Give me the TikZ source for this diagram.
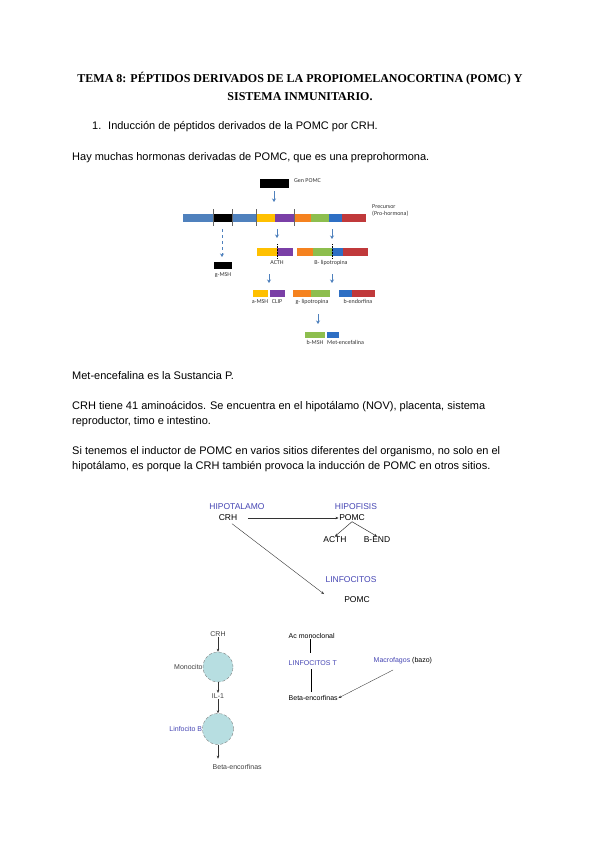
\documentclass[tikz,border=0pt]{standalone}
\usepackage{fontspec}
\setmainfont{Liberation Sans}
\newfontfamily\titlefont{Liberation Serif}
\newfontfamily\figfont{Carlito}
\usetikzlibrary{arrows.meta}
\definecolor{pblue}{HTML}{4F81BD}
\definecolor{pbluedk}{HTML}{2E6FC4}
\definecolor{pyellow}{HTML}{FFC000}
\definecolor{ppurple}{HTML}{7A3FA6}
\definecolor{porange}{HTML}{F5821F}
\definecolor{pgreen}{HTML}{8DBE4E}
\definecolor{pred}{HTML}{C0393B}
\definecolor{arrowblue}{HTML}{4F81BD}
\definecolor{labblue}{HTML}{4646B4}
\definecolor{cellcyan}{HTML}{B7DEE1}
\begin{document}
\begin{tikzpicture}[x=1pt, y=-1pt,
        body/.style={anchor=base west, inner sep=0pt, align=left, font=\fontsize{11}{14.5}\selectfont},
        ttl/.style={inner sep=0pt, align=center, font=\titlefont\bfseries\fontsize{12}{18}\selectfont},
        flbl/.style={inner sep=0pt, text=black!80, font=\figfont\fontsize{6}{7}\selectfont, align=left},
        barrow/.style={draw=arrowblue, line width=0.9pt, -{Stealth[length=3.5pt, width=4pt]}},
        tick/.style={draw=black!60, line width=0.5pt},
        slbl/.style={inner sep=0.5pt, font=\fontsize{8.5}{10}\selectfont},
        clbl/.style={inner sep=0.5pt, text=black!75, font=\fontsize{7}{8}\selectfont},
        cell/.style={circle, draw=gray, densely dashed, fill=cellcyan, minimum size=30pt, inner sep=0pt},
        link/.style={draw=black!80, line width=0.5pt, -{Stealth[length=3pt, width=2.5pt]}}
    ]
        \useasboundingbox[fill=white] (0,0) rectangle (600,848);

        % Title and text
        \node[ttl] (title) at (300,86) {TEMA 8: PÉPTIDOS DERIVADOS DE LA PROPIOMELANOCORTINA (POMC) Y\\SISTEMA INMUNITARIO.};
        \node[body] (num) at (92,130) {1.};
        \node[body] (item) at (108,130) {Inducción de péptidos derivados de la POMC por CRH.};
        \node[body] (intro) at (72,160) {Hay muchas hormonas derivadas de POMC, que es una preprohormona.};

        % Gen POMC
        \node[fill=black, minimum width=29pt, minimum height=9pt, inner sep=0pt] (gen) at (274.5,183) {};
        \node[flbl, anchor=west] (genlbl) at (294,181) {Gen POMC};
        \coordinate (genout) at (274,191);
        \coordinate (genin) at (274,202);
        \draw[barrow] (genout) -- (genin);

        % Precursor
        \foreach \xa/\xb/\col in {183/213/pblue, 213/232/black, 232/256/pblue, 256/275/pyellow, 275/294/ppurple, 294/311/porange, 311/329/pgreen, 329/342/pbluedk, 342/366/pred}
            \fill[\col] (\xa,214) rectangle (\xb,222);
        \foreach \xt in {213,232,256,294}
            \draw[tick] (\xt,209) -- (\xt,226);
        \node[flbl, anchor=north west] (prec) at (372,204) {Precursor\\(Pro-hormona)};

        % Level 2
        \coordinate (gdash) at (222,229);
        \coordinate (gtop) at (222,257);
        \draw[barrow, dashed] (gdash) -- (gtop);
        \coordinate (acthout) at (277,229);
        \coordinate (acthin) at (277,238);
        \draw[barrow] (acthout) -- (acthin);
        \coordinate (lipout) at (332,229);
        \coordinate (lipin) at (332,239);
        \draw[barrow] (lipout) -- (lipin);

        \fill[black] (214,262) rectangle (232,269);
        \node[flbl, anchor=north] (gmsh) at (223,272) {g-MSH};

        \foreach \xa/\xb/\col in {257/277/pyellow, 277/293/ppurple, 297/313/porange, 313/332/pgreen, 332/343/pbluedk, 343/368/pred}
            \fill[\col] (\xa,248) rectangle (\xb,256);
        \draw[black, densely dotted, line width=0.5pt] (277,244) -- (277,259);
        \draw[black, densely dotted, line width=0.5pt] (332,244) -- (332,259);
        \node[flbl, anchor=north] (acth) at (277,260) {ACTH};
        \node[flbl, anchor=north] (blip) at (331,260) {B- lipotropina};

        % Level 3
        \coordinate (l3a) at (269,274);
        \coordinate (l3b) at (269,283);
        \draw[barrow] (l3a) -- (l3b);
        \coordinate (l3c) at (332,274);
        \coordinate (l3d) at (332,283);
        \draw[barrow] (l3c) -- (l3d);

        \foreach \xa/\xb/\col in {253/268/pyellow, 270/285/ppurple, 293/311/porange, 311/330/pgreen, 339/352/pbluedk, 352/375/pred}
            \fill[\col] (\xa,290) rectangle (\xb,297);
        \node[flbl, anchor=north] (amsh) at (260,299) {a-MSH};
        \node[flbl, anchor=north] (clip) at (277,299) {CLIP};
        \node[flbl, anchor=north] (glip) at (312,299) {g- lipotropina};
        \node[flbl, anchor=north] (bend) at (358,299) {b-endorfina};

        % Level 4
        \coordinate (l4a) at (318,314);
        \coordinate (l4b) at (318,324);
        \draw[barrow] (l4a) -- (l4b);
        \fill[pgreen] (305,332) rectangle (325,338);
        \fill[pbluedk] (327,332) rectangle (339,338);
        \node[flbl, anchor=north] (bmsh) at (315,340) {b-MSH};
        \node[flbl, anchor=north west] (met) at (327,340) {Met-encefalina};

        % More text
        \node[body] (sust) at (72,379) {Met-encefalina es la Sustancia P.};
        \node[body] (crhtxt) at (72,424) {CRH tiene 41 aminoácidos. Se encuentra en el hipotálamo (NOV), placenta, sistema\\reproductor, timo e intestino.};
        \node[body] (sitios) at (72,469) {Si tenemos el inductor de POMC en varios sitios diferentes del organismo, no solo en el\\hipotálamo, es porque la CRH también provoca la inducción de POMC en otros sitios.};

        % Hipotalamo / hipofisis
        \node[slbl, text=labblue] (hipot) at (237,507) {HIPOTALAMO};
        \node[slbl] (crh) at (228,518) {CRH};
        \node[slbl, text=labblue] (hipof) at (356,507) {HIPOFISIS};
        \node[slbl] (pomc) at (352,518) {POMC};
        \node[slbl] (acthb) at (335,540) {ACTH};
        \node[slbl] (bendb) at (377,540) {B-END};
        \node[slbl, text=labblue] (linf) at (351,580) {LINFOCITOS};
        \node[slbl] (pomcl) at (357,600) {POMC};
        \coordinate (linfend) at (324,594);
        \draw[link] (crh.east) ++(10,0) -- (pomc.west);
        \draw[link] (pomc.south) -- (acthb.north);
        \draw[link] (pomc.south) -- (bendb.north);
        \draw[link, line width=0.4pt] (crh.south) ++(4,2) -- (linfend);

        % Monocito / Linfocito B
        \node[clbl] (crhm) at (218,634) {CRH};
        \node[cell] (mono) at (218,667) {};
        \node[clbl, anchor=east, inner sep=0pt] (monolbl) at (mono.west) {Monocito};
        \node[clbl] (il) at (218,696) {IL-1};
        \node[cell, minimum size=31pt] (linfb) at (218,729) {};
        \node[clbl, anchor=east, text=labblue, inner sep=0pt] (linfblbl) at (linfb.west) {Linfocito B};
        \node[clbl, anchor=west] (betab) at (212,767) {Beta-encorfinas};
        \draw[link] (crhm.south) -- (mono.north);
        \draw[link] (mono.south) -- (il.north);
        \draw[link] (il.south) -- (linfb.north);
        \draw[link] (linfb.south) -- ++(0,14);

        % Linfocitos T
        \node[clbl, text=black, anchor=west] (acmono) at (288,636) {Ac monoclonal};
        \node[clbl, text=labblue, anchor=west] (linft) at (288,663) {LINFOCITOS T};
        \node[clbl, text=black, anchor=west] (betat) at (288,698) {Beta-encorfinas};
        \node[clbl, text=black, anchor=west] (macro) at (373,661) {\textcolor{labblue}{Macrofagos} (bazo)};
        \draw[black, line width=0.7pt] (acmono.south -| linft.north) ++(-2,0) -- ++(0,14);
        \draw[black, line width=0.7pt] (311,669) -- (311,692);
        \draw[link, line width=0.35pt] (393,670) -- (betat.east);
\end{tikzpicture}
\end{document}
